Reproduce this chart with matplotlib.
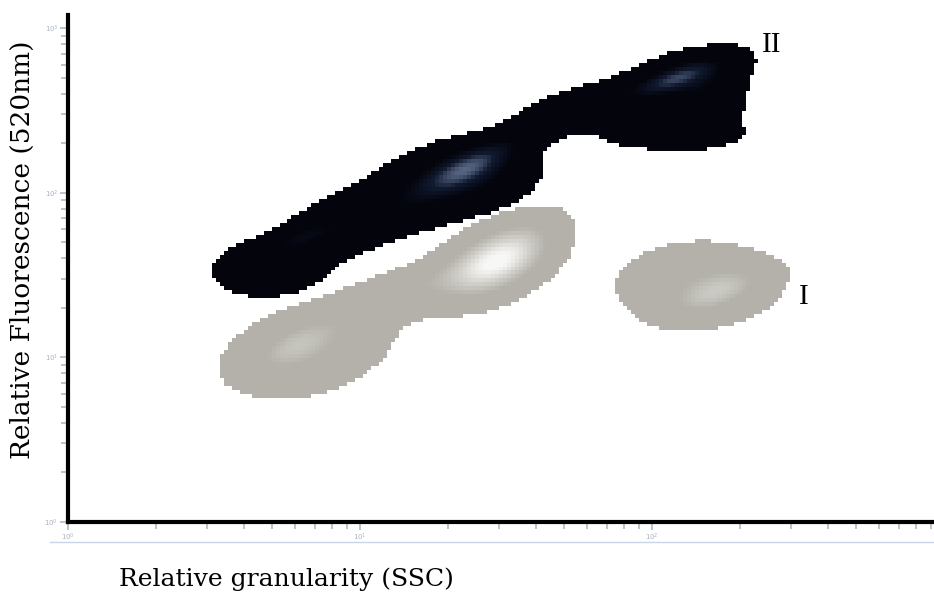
import numpy as np
import matplotlib
matplotlib.use("Agg")
import matplotlib.pyplot as plt
from matplotlib.colors import LinearSegmentedColormap
from matplotlib.ticker import LogLocator, NullFormatter
from matplotlib.lines import Line2D

# Populations described as gaussian components in log10 (decade) units:
# centre x, centre y, sigma along major axis, sigma along minor axis,
# major-axis angle (deg, in decade space) and relative weight.
# Population II (high fluorescence band)
pop2_cx = [0.70, 0.96, 1.25, 1.40, 1.73, 2.10, 2.18, 2.06, 1.38, 2.07, 0.80]
pop2_cy = [1.55, 1.81, 2.03, 2.12, 2.50, 2.70, 2.58, 2.36, 2.17, 2.69, 1.73]
pop2_su = [0.12, 0.15, 0.17, 0.12, 0.13, 0.15, 0.08, 0.13, 0.17, 0.12, 0.09]
pop2_sv = [0.10, 0.09, 0.115, 0.11, 0.065, 0.08, 0.13, 0.055, 0.055, 0.04, 0.035]
pop2_ang = [28, 38, 40, 37, 35, 30, 0, 0, 45, 35, 35]
pop2_w = [0.5, 0.5, 0.5, 0.5, 0.5, 0.5, 0.5, 0.5, 1.1, 1.0, 0.55]

# Population I (two joined clusters plus the isolated right cluster)
pop1_cx = [0.82, 1.14, 1.45, 2.16, 1.48, 0.78, 2.23]
pop1_cy = [1.04, 1.38, 1.56, 1.44, 1.60, 1.07, 1.40]
pop1_su = [0.19, 0.19, 0.15, 0.16, 0.16, 0.12, 0.12]
pop1_sv = [0.135, 0.075, 0.105, 0.15, 0.08, 0.06, 0.06]
pop1_ang = [45, 36, 55, 20, 57, 45, 40]
pop1_w = [0.5, 0.5, 0.5, 0.5, 1.3, 0.45, 0.6]

# axis ranges in decades
x_range = (0.0, 2.966)
y_range = (0.0, 3.08)

x_label = "Relative granularity (SSC)"
y_label = "Relative Fluorescence (520nm)"
gate_labels = ["I", "II"]


def density(gx, gy, cx, cy, su, sv, ang, w):
    d = np.zeros_like(gx)
    for x0, y0, a, b, t, k in zip(cx, cy, su, sv, ang, w):
        th = np.deg2rad(t)
        dx, dy = gx - x0, gy - y0
        u = dx * np.cos(th) + dy * np.sin(th)
        v = -dx * np.sin(th) + dy * np.cos(th)
        d += k * np.exp(-0.5 * ((u / a) ** 2 + (v / b) ** 2))
    return d


fig = plt.figure(figsize=(9.34, 6.07), dpi=100)
ax = fig.add_axes([68 / 934, 1 - 522 / 607, 1 - 68 / 934, (522 - 15) / 607])

# binned grid (channels)
xe = np.linspace(x_range[0], x_range[1], 218)
ye = np.linspace(y_range[0], y_range[1], 128)
xc = 0.5 * (xe[1:] + xe[:-1])
yc = 0.5 * (ye[1:] + ye[:-1])
GX, GY = np.meshgrid(xc, yc)
X, Y = np.meshgrid(10 ** xe, 10 ** ye)

thr = 0.1
d2 = density(GX, GY, pop2_cx, pop2_cy, pop2_su, pop2_sv, pop2_ang, pop2_w)
d1 = density(GX, GY, pop1_cx, pop1_cy, pop1_su, pop1_sv, pop1_ang, pop1_w)

cmap_dark = LinearSegmentedColormap.from_list("dark", ["#03040c", "#111a30", "#6b7b99"])
cmap_gray = LinearSegmentedColormap.from_list("gray", ["#b3b1a9", "#d2d1cc", "#f7f7f5"])

ax.pcolormesh(X, Y, np.ma.masked_less(d2, thr), cmap=cmap_dark, vmin=0.7, vmax=2.0,
              shading="flat", rasterized=True)
ax.pcolormesh(X, Y, np.ma.masked_less(d1, thr), cmap=cmap_gray, vmin=0.6, vmax=1.75,
              shading="flat", rasterized=True)

ax.set_xscale("log")
ax.set_yscale("log")
ax.set_xlim(10 ** x_range[0], 10 ** x_range[1])
ax.set_ylim(10 ** y_range[0], 10 ** y_range[1])

for s in ("top", "right"):
    ax.spines[s].set_visible(False)
for s in ("left", "bottom"):
    ax.spines[s].set_linewidth(3.0)
    ax.spines[s].set_color("black")

tick_col = "#b9bec5"
ax.xaxis.set_major_locator(LogLocator(base=10, numticks=10))
ax.yaxis.set_major_locator(LogLocator(base=10, numticks=10))
ax.xaxis.set_minor_locator(LogLocator(base=10, subs=np.arange(2, 10), numticks=20))
ax.yaxis.set_minor_locator(LogLocator(base=10, subs=np.arange(2, 10), numticks=20))
ax.xaxis.set_minor_formatter(NullFormatter())
ax.yaxis.set_minor_formatter(NullFormatter())
ax.tick_params(which="both", direction="out", color=tick_col, width=1.3,
               labelsize=5, labelcolor="#a9b3c3")
ax.tick_params(which="major", length=6, pad=1)
ax.tick_params(which="minor", length=5)

ax.set_facecolor("white")

# gate labels
ax.text(10 ** 2.376, 10 ** 2.897, gate_labels[1], family="Liberation Serif",
        fontsize=21, ha="left", va="center")
ax.text(10 ** 2.505, 10 ** 1.364, gate_labels[0], family="Liberation Serif",
        fontsize=21, ha="left", va="center")

fig.text(22 / 934, 1 - 250 / 607, y_label, family="DejaVu Serif", fontsize=19,
         rotation=90, ha="center", va="center")
fig.text(119 / 934, 1 - 579 / 607, x_label, family="DejaVu Serif",
         fontsize=18, ha="left", va="center")

fig.add_artist(Line2D([50 / 934, 1.0], [1 - 542 / 607] * 2, color="#c9d5e8", lw=1.0))

fig.savefig("out.png", dpi=100, facecolor="white")
